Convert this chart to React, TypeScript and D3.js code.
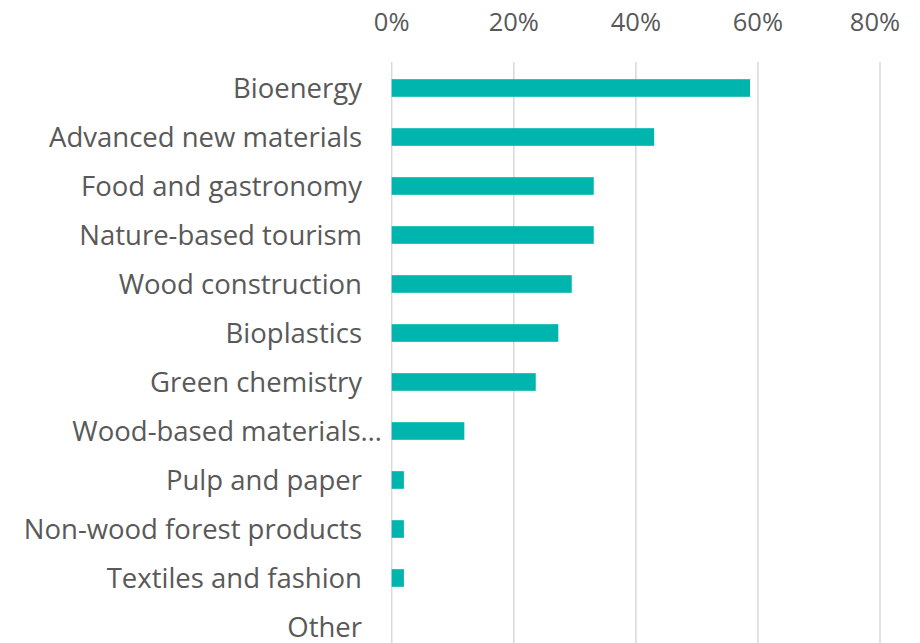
import React from "react";
import * as d3 from "d3";

const categories = [
  "Bioenergy",
  "Advanced new materials",
  "Food and gastronomy",
  "Nature-based tourism",
  "Wood construction",
  "Bioplastics",
  "Green chemistry",
  "Wood-based materials…",
  "Pulp and paper",
  "Non-wood forest products",
  "Textiles and fashion",
  "Other",
];
const values = [58.7, 43.0, 33.1, 33.1, 29.5, 27.3, 23.6, 11.9, 2.0, 2.0, 2.0, 0];
const ticks = [0, 20, 40, 60, 80];

const W = 920;
const H = 643;

export default function App() {
  const x = d3.scaleLinear().domain([0, 80]).range([391.7, 880]);
  const y = d3
    .scaleBand<string>()
    .domain(categories)
    .range([63.5, 651.5])
    .paddingInner(0.64)
    .paddingOuter(0.32);
  const font = "'Open Sans', 'Noto Sans', sans-serif";
  return (
    <svg
      width={W}
      height={H}
      style={{ position: "absolute", left: 0, top: 0, background: "#fff" }}
    >
      {ticks.map((t) => (
        <g key={t}>
          <line x1={x(t)} x2={x(t)} y1={62} y2={H} stroke="#d9d9d9" strokeWidth={1.5} />
          <text
            x={t === 80 ? x(t) - 5 : x(t)}
            y={31}
            textAnchor="middle"
            fontFamily={font}
            fontSize={25.5}
            fill="#595959"
          >
            {t}%
          </text>
        </g>
      ))}
      {categories.map((c, i) => (
        <g key={c}>
          <rect
            x={x(0)}
            y={y(c)!}
            width={x(values[i]) - x(0)}
            height={y.bandwidth()}
            fill="#00b5ad"
          />
          <text
            x={c.endsWith("…") ? 382 : 362}
            y={y(c)! + y.bandwidth() / 2}
            dy="0.35em"
            textAnchor="end"
            fontFamily={font}
            fontSize={27.5}
            fill="#595959"
          >
            {c}
          </text>
        </g>
      ))}
    </svg>
  );
}
